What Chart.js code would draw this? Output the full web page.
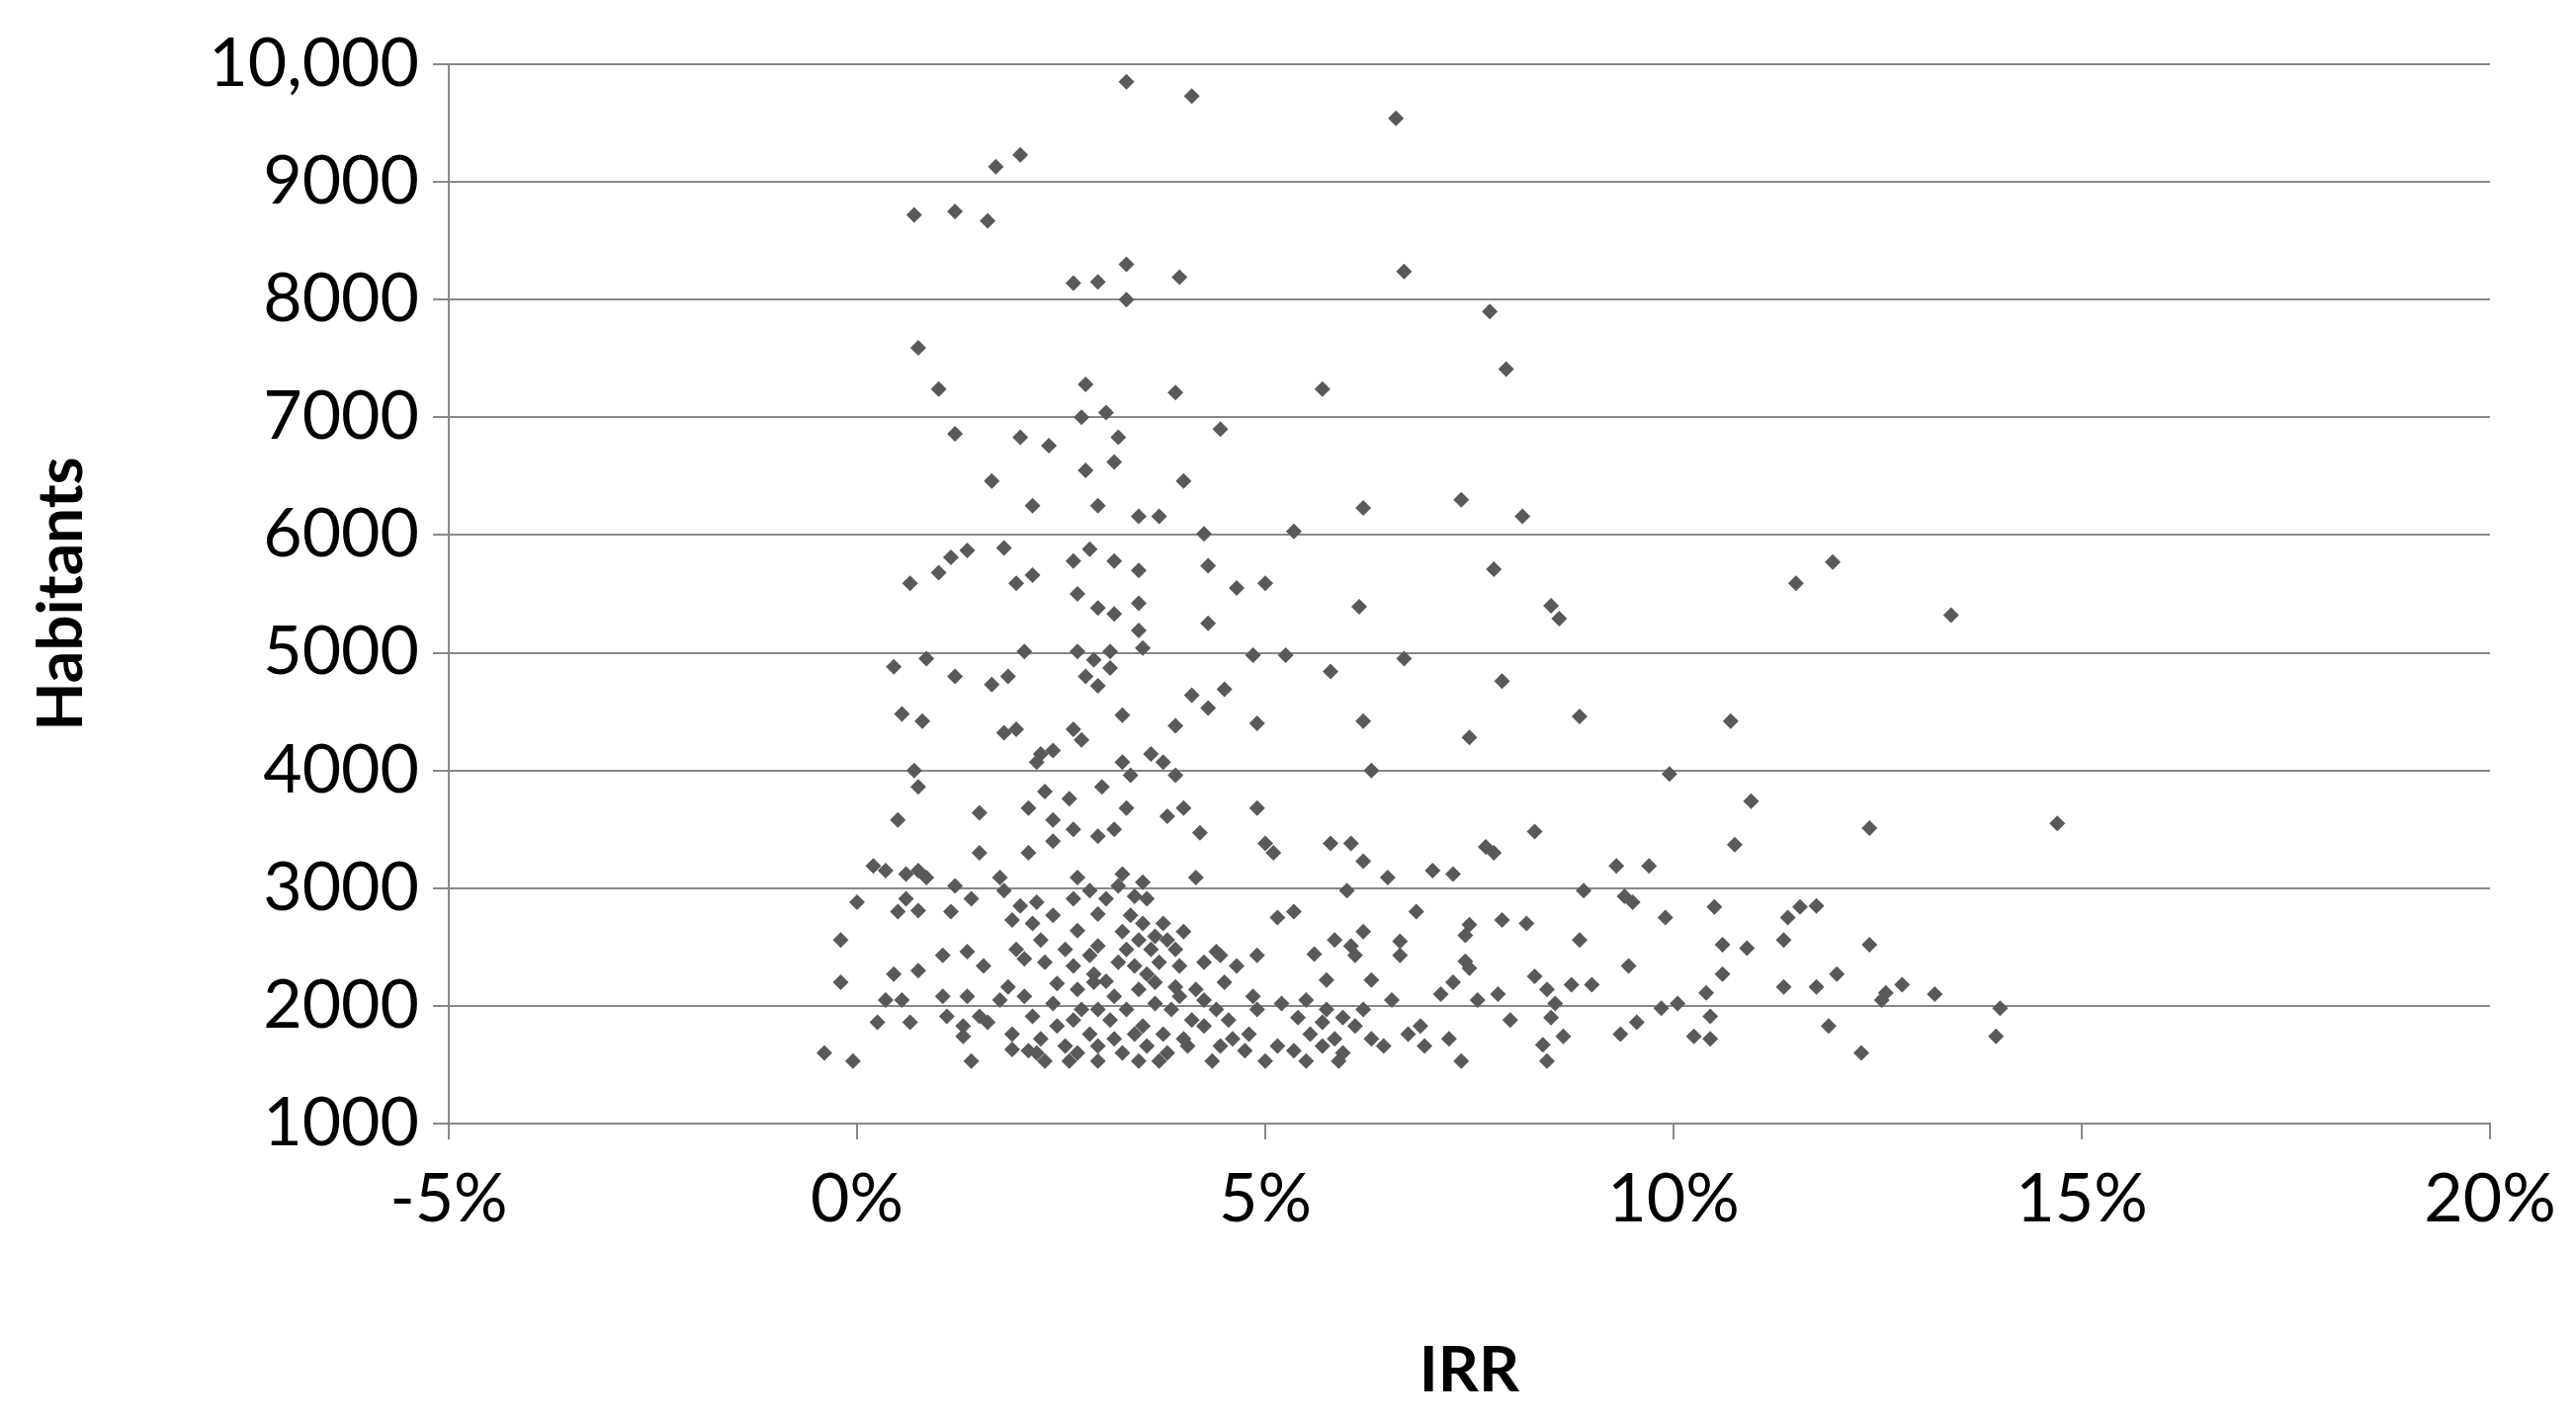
<!DOCTYPE html>
<html>
<head>
<meta charset="utf-8">
<script src="https://cdn.jsdelivr.net/npm/chart.js@4"></script>
<style>
  html, body { margin: 0; padding: 0; background: #fff; }
  #wrap { width: 2606px; height: 1440px; }
</style>
</head>
<body>
<div id="wrap"><canvas id="chart"></canvas></div>
<script>
// IRR (%) and habitants per municipality
const irr = [
  3.3,4.1,6.6,1.7,2.0,0.7,1.2,1.6,3.3,2.65,2.95,3.3,3.95,6.7,7.75,7.95,0.75,1.0,2.8,3.9,5.7,
  2.75,3.05,3.2,2.0,2.35,1.2,4.45,1.65,2.8,3.15,4.0,2.15,2.95,3.45,3.7,4.25,5.35,6.2,7.4,8.15,
  1.15,1.35,1.8,2.65,2.85,3.15,3.45,4.3,1.0,0.65,1.95,2.15,5.0,7.8,11.5,11.95,13.4,
  2.7,3.45,4.65,6.15,8.5,8.6,2.95,3.15,4.3,3.45,3.5,2.7,2.05,2.9,3.1,4.85,5.25,6.7,
  0.45,0.85,1.2,1.65,1.85,2.8,3.1,2.95,5.8,7.9,4.1,4.5,0.55,0.8,4.3,3.25,4.9,6.2,8.85,10.7,
  1.8,1.95,2.65,2.75,3.9,7.5,2.25,2.4,3.6,3.75,3.25,2.2,0.7,6.3,9.95,0.75,2.3,3.0,3.9,3.35,
  2.6,10.95,2.1,3.3,4.9,3.8,0.5,1.5,2.4,4.0,14.7,12.4,2.65,3.15,4.2,8.3,2.4,2.95,5.0,5.8,6.05,
  7.7,10.75,2.1,1.5,7.8,5.1,6.2,0.2,0.35,9.3,9.7,7.05,7.3,0.6,0.75,0.85,1.75,2.7,3.25,3.5,4.15,6.5,
  1.2,1.8,2.85,3.2,3.4,3.55,6.0,8.9,9.4,0.6,1.4,2.65,3.05,9.5,0.0,2.0,2.2,10.5,11.55,11.75,
  0.5,0.75,1.15,2.4,2.95,3.35,5.15,5.35,6.85,9.9,11.4,1.9,2.15,3.5,3.75,7.9,8.2,7.5,
  2.7,3.25,4.0,6.2,7.45,-0.2,2.25,3.45,3.65,3.8,5.85,6.65,8.85,10.6,11.35,12.4,10.9,
  1.95,2.55,2.95,3.3,3.6,3.9,4.4,6.05,1.35,1.05,2.85,4.45,4.9,5.6,6.1,6.65,
  2.05,2.3,3.2,3.7,4.25,7.45,1.55,2.65,3.4,3.95,4.65,9.45,7.5,0.45,0.75,2.9,3.55,12.0,10.6,
  -0.2,2.9,3.05,2.45,3.65,4.5,5.75,6.3,7.3,8.3,8.75,9.0,12.8,11.35,11.75,1.85,2.7,3.45,3.9,4.15,8.45,
  12.6,13.2,10.4,1.05,1.35,2.05,3.15,3.95,4.85,7.15,7.85,0.35,0.55,1.75,2.4,3.65,4.25,5.2,5.5,6.55,7.6,
  10.05,12.55,14.0,9.85,8.55,2.75,2.95,3.3,3.85,4.4,4.9,5.75,6.2,1.1,1.5,2.15,2.65,3.1,4.1,4.55,5.4,5.95,
  8.0,8.5,10.45,0.25,0.65,1.3,1.6,2.45,3.5,4.25,5.7,6.1,6.9,9.55,11.9,1.9,2.85,3.4,3.75,4.8,5.55,6.75,
  9.35,13.95,1.3,2.25,3.15,4.0,4.6,5.85,6.3,7.25,10.25,10.45,8.65,2.55,2.95,3.55,4.05,4.45,5.15,5.7,6.45,6.95,
  8.4,-0.4,1.9,2.1,2.2,2.7,3.25,3.8,4.75,5.35,5.95,12.3,-0.05,1.4,2.3,2.6,2.95,3.45,3.7,4.35,5.0,5.5,5.9,7.4,8.45
];
const habitants = [
  9850,9730,9540,9130,9230,8720,8750,8670,8300,8140,8150,8000,8190,8240,7900,7410,7590,7240,7280,7210,7240,
  7000,7040,6830,6830,6760,6860,6900,6460,6550,6620,6460,6250,6250,6160,6160,6010,6030,6230,6300,6160,
  5810,5870,5890,5780,5880,5780,5700,5740,5680,5590,5590,5660,5590,5710,5590,5770,5320,
  5500,5420,5550,5390,5400,5290,5380,5330,5250,5190,5040,5010,5010,4940,5010,4980,4980,4950,
  4880,4950,4800,4730,4800,4800,4870,4720,4840,4760,4640,4690,4480,4420,4530,4470,4400,4420,4460,4420,
  4320,4350,4350,4260,4380,4280,4140,4170,4140,4070,4070,4070,4000,4000,3970,3860,3820,3860,3960,3960,
  3760,3740,3680,3680,3680,3610,3580,3640,3580,3680,3550,3510,3500,3500,3470,3480,3400,3440,3380,3380,3380,
  3350,3370,3300,3300,3300,3300,3230,3190,3150,3190,3190,3150,3120,3120,3150,3090,3090,3090,3120,3050,3090,3090,
  3020,2980,2980,3020,2930,2910,2980,2980,2930,2910,2910,2910,2910,2880,2880,2850,2880,2840,2840,2850,
  2800,2810,2800,2770,2780,2770,2750,2800,2800,2750,2750,2730,2700,2700,2700,2730,2700,2690,
  2640,2630,2630,2630,2600,2560,2560,2560,2590,2560,2560,2550,2560,2520,2560,2520,2490,
  2480,2480,2510,2480,2480,2480,2460,2510,2460,2430,2430,2430,2430,2440,2430,2430,
  2400,2370,2370,2370,2370,2380,2340,2340,2340,2340,2340,2340,2320,2270,2300,2270,2270,2270,2270,
  2200,2200,2210,2190,2200,2200,2220,2220,2200,2250,2180,2180,2180,2160,2160,2160,2140,2140,2160,2140,2140,
  2110,2100,2110,2080,2080,2080,2080,2080,2080,2100,2100,2050,2050,2050,2020,2020,2050,2020,2050,2050,2050,
  2020,2050,1980,1980,2020,1970,1970,1970,1970,1970,1970,1970,1970,1910,1910,1910,1880,1880,1880,1880,1900,1900,
  1880,1900,1910,1860,1860,1830,1860,1830,1830,1830,1860,1830,1830,1860,1830,1760,1760,1760,1760,1760,1760,1760,
  1760,1740,1740,1720,1720,1720,1720,1720,1720,1720,1740,1720,1740,1660,1660,1660,1660,1660,1660,1660,1660,1660,
  1670,1600,1630,1620,1600,1600,1600,1600,1620,1620,1600,1600,1530,1530,1530,1530,1530,1530,1530,1530,1530,1530,1530,1530,1530
];
const xTicks = [-5, 0, 5, 10, 15, 20];
const yMin = 1000, yMax = 10000, yStep = 1000;

const points = irr.map((v, i) => ({ x: v, y: habitants[i] }));
const tickFont = { family: "Lato, 'Open Sans', sans-serif", size: 68 };
const titleFont = { family: "Lato, 'Open Sans', sans-serif", size: 64, weight: "bold" };

new Chart(document.getElementById("chart"), {
  type: "scatter",
  data: {
    datasets: [{
      data: points,
      pointStyle: "rectRot",
      pointRadius: 8,
      backgroundColor: "#595959",
      borderColor: "#595959",
      borderWidth: 0
    }]
  },
  options: {
    responsive: true,
    maintainAspectRatio: false,
    animation: false,
    layout: { padding: { top: 65, right: 87, left: 20, bottom: 10 } },
    plugins: { legend: { display: false }, tooltip: { enabled: false } },
    scales: {
      x: {
        type: "linear",
        min: xTicks[0],
        max: xTicks[xTicks.length - 1],
        afterBuildTicks: s => { s.ticks = xTicks.map(v => ({ value: v })); },
        afterFit: s => { s.height = 1440 - 1137 - 10; },
        ticks: { font: tickFont, color: "#000", callback: v => v + "%", padding: 20 },
        grid: { drawOnChartArea: false, drawTicks: true, tickLength: 16, color: "#888", lineWidth: 2 },
        border: { color: "#888", width: 2 },
        title: { display: true, text: "IRR", font: titleFont, color: "#000", padding: { top: 60 } }
      },
      y: {
        min: yMin,
        max: yMax,
        afterFit: s => { s.width = 454 - 20; },
        ticks: {
          stepSize: yStep, font: tickFont, color: "#000", padding: 14,
          callback: v => v === 10000 ? "10,000" : String(v)
        },
        grid: { color: "#888", lineWidth: 2, tickLength: 16 },
        border: { color: "#888", width: 2 },
        title: { display: true, text: "Habitants", font: titleFont, color: "#000", padding: { bottom: 30 } }
      }
    }
  }
});
</script>
</body>
</html>
